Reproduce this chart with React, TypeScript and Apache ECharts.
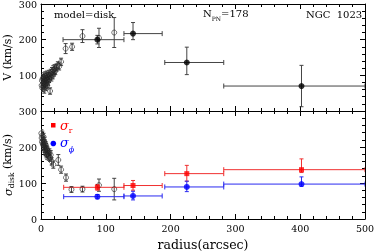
import React, { useEffect, useRef } from "react";
import * as echarts from "echarts";

// ---------- top panel: rotation velocity ----------
const vOpenR = [1, 1.5, 2, 2.5, 3, 3.5, 4, 4.5, 5, 5.5, 6, 6.5, 7, 7.5, 8, 8.5, 9, 9.5, 10, 10.5, 11, 12, 12.5, 13, 14, 15, 16, 17, 18, 19, 20, 21, 22, 24, 26, 28, 31, 38, 48, 64, 89.5, 113];
const vOpenV = [72, 85, 65, 90, 78, 70, 95, 82, 60, 88, 75, 98, 68, 85, 92, 78, 100, 72, 88, 95, 82, 102, 90, 98, 56, 105, 94, 110, 100, 115, 108, 118, 112, 122, 128, 125, 138, 175, 180, 210, 205, 220];
const vOpenErr = [10, 12, 10, 12, 10, 10, 12, 10, 10, 12, 10, 12, 10, 10, 12, 10, 12, 10, 10, 12, 10, 12, 10, 10, 9, 12, 10, 12, 10, 12, 10, 12, 10, 10, 10, 10, 10, 14, 10, 18, 27, 42];

const vBinR = [87, 142, 225, 402];
const vBinRLo = [34, 128, 191, 282];
const vBinRHi = [128, 187, 282, 500];
const vBinV = [200, 217, 136, 70];
const vBinVLo = [188, 200, 102, 12];
const vBinVHi = [212, 248, 179, 128];

// ---------- bottom panel: velocity dispersion ----------
const sOpenR = [0.5, 1, 1.5, 2, 2.5, 3, 3.5, 4, 4.5, 5, 5.5, 6, 6.5, 7, 7.5, 8, 8.5, 9, 9.5, 10, 11, 12, 13, 14, 15, 16.5, 19, 26.7, 31, 38.6, 47, 64, 89.5, 113];
const sOpenS = [238, 225, 215, 232, 210, 220, 205, 228, 200, 215, 195, 210, 190, 205, 185, 198, 180, 195, 178, 190, 182, 175, 185, 170, 178, 160, 151, 164, 137, 115, 82, 83, 94, 83];
const sOpenErr = [10, 12, 10, 12, 10, 10, 12, 10, 10, 12, 10, 10, 12, 10, 10, 12, 10, 10, 12, 10, 10, 12, 10, 10, 12, 10, 10, 15, 10, 10, 8, 8, 17, 30];

const binR = [87, 142, 225, 402];
const binRLo = [35, 128, 191, 282];
const binRHi = [128, 187, 282, 500];
const sigRV = [88, 93, 126, 137];
const sigRLo = [80, 80, 105, 129];
const sigRHi = [96, 107, 149, 167];
const sigPhiV = [62, 64, 89, 97];
const sigPhiLo = [56, 53, 76, 91];
const sigPhiHi = [68, 77, 105, 117];

const FONT = "DejaVu Serif";

function errRender(color: string) {
  return (params: any, api: any) => {
    const x = api.value(0), y = api.value(1);
    const xl = api.value(2), xh = api.value(3), yl = api.value(4), yh = api.value(5);
    const children: any[] = [];
    const st = { stroke: color, lineWidth: 1 };
    const hc = 2.5, vc = 2;
    if (xl !== xh) {
      const a = api.coord([xl, y]), b = api.coord([xh, y]);
      children.push({ type: "line", shape: { x1: a[0], y1: a[1], x2: b[0], y2: b[1] }, style: st });
      children.push({ type: "line", shape: { x1: a[0], y1: a[1] - hc, x2: a[0], y2: a[1] + hc }, style: st });
      children.push({ type: "line", shape: { x1: b[0], y1: b[1] - hc, x2: b[0], y2: b[1] + hc }, style: st });
    }
    if (yl !== yh) {
      const a = api.coord([x, yl]), b = api.coord([x, yh]);
      children.push({ type: "line", shape: { x1: a[0], y1: a[1], x2: b[0], y2: b[1] }, style: st });
      children.push({ type: "line", shape: { x1: a[0] - vc, y1: a[1], x2: a[0] + vc, y2: a[1] }, style: st });
      children.push({ type: "line", shape: { x1: b[0] - vc, y1: b[1], x2: b[0] + vc, y2: b[1] }, style: st });
    }
    return { type: "group", children };
  };
}

export default function App() {
  const ref = useRef<HTMLDivElement>(null);
  useEffect(() => {
    if (!ref.current) return;
    const chart = echarts.init(ref.current, null, { renderer: "svg" });

    const axisLine = { show: true, onZero: false, lineStyle: { color: "#000", width: 1 } };
    const axisTick = { show: true, inside: true, length: 5, lineStyle: { color: "#000", width: 1 } };
    const minorTick = { show: true, splitNumber: 5, length: 3, lineStyle: { color: "#000", width: 1 } };
    const lbl = { fontFamily: FONT, fontSize: 9.5, color: "#000", margin: 4 };

    const xA = (grid: number, pos: string, showLabel: boolean, name?: string) => ({
      type: "value", gridIndex: grid, position: pos, min: 0, max: 500, interval: 100,
      axisLine, axisTick, minorTick, splitLine: { show: false },
      axisLabel: { ...lbl, show: showLabel },
      name: name || "", nameLocation: "middle", nameGap: 19, nameMoveOverlap: false,
      nameTextStyle: { fontFamily: FONT, fontSize: 12.5, color: "#000" },
    });
    const yA = (grid: number, pos: string, showLabel: boolean, extra: any = {}) => ({
      type: "value", gridIndex: grid, position: pos, min: 0, max: 300, interval: 100,
      axisLine, axisTick, minorTick, splitLine: { show: false },
      axisLabel: { ...lbl, show: showLabel },
      nameMoveOverlap: false,
      ...extra,
    });

    const vOpenData = vOpenR.map((r, i) => [r, vOpenV[i]]);
    const vOpenErrData = vOpenR.map((r, i) => [r, vOpenV[i], r, r, vOpenV[i] - vOpenErr[i], vOpenV[i] + vOpenErr[i]]);
    const vBinData = vBinR.map((r, i) => [r, vBinV[i]]);
    const vBinErrData = vBinR.map((r, i) => [r, vBinV[i], vBinRLo[i], vBinRHi[i], vBinVLo[i], vBinVHi[i]]);
    const sOpenData = sOpenR.map((r, i) => [r, sOpenS[i]]);
    const sOpenErrData = sOpenR.map((r, i) => [r, sOpenS[i], r, r, sOpenS[i] - sOpenErr[i], sOpenS[i] + sOpenErr[i]]);
    const sRData = binR.map((r, i) => [r, sigRV[i]]);
    const sRErr = binR.map((r, i) => [r, sigRV[i], binRLo[i], binRHi[i], sigRLo[i], sigRHi[i]]);
    const sPData = binR.map((r, i) => [r, sigPhiV[i]]);
    const sPErr = binR.map((r, i) => [r, sigPhiV[i], binRLo[i], binRHi[i], sigPhiLo[i], sigPhiHi[i]]);

    const errSeries = (data: any[], color: string, xi: number, yi: number) => ({
      type: "custom", xAxisIndex: xi, yAxisIndex: yi, data, clip: true,
      renderItem: errRender(color), silent: true, z: 2,
      encode: { x: 0, y: 1 },
    });

    chart.setOption({
      animation: false,
      grid: [
        { left: 41, top: 4, width: 324, height: 107, containLabel: false, outerBoundsMode: "none" },
        { left: 41, top: 111, width: 324, height: 108, containLabel: false, outerBoundsMode: "none" },
      ],
      xAxis: [
        xA(0, "bottom", false),
        xA(0, "top", false),
        xA(1, "bottom", true, "radius(arcsec)"),
        xA(1, "top", false),
      ],
      yAxis: [
        yA(0, "left", true, {
          axisLabel: { ...lbl, showMinLabel: false, lineHeight: 8 },
          name: "V (km/s)", nameLocation: "middle", nameGap: 28, nameRotate: 90,
          nameTextStyle: { fontFamily: FONT, fontSize: 11, color: "#000" },
        }),
        yA(0, "right", false),
        yA(1, "left", true, {
          name: "{s|σ}{sub|disk} (km/s)", nameLocation: "middle", nameGap: 26, nameRotate: 90,
          nameTextStyle: {
            fontFamily: FONT, fontSize: 11, color: "#000",
            rich: {
              s: { fontFamily: FONT, fontSize: 11.5, fontStyle: "italic", color: "#000", verticalAlign: "middle" },
              sub: { fontFamily: FONT, fontSize: 7.5, color: "#000", verticalAlign: "bottom", lineHeight: 15 },
            },
          },
        }),
        yA(1, "right", false),
      ],
      series: [
        errSeries(vOpenErrData, "#444", 0, 0),
        {
          type: "scatter", xAxisIndex: 0, yAxisIndex: 0, data: vOpenData, symbol: "circle", symbolSize: 5,
          itemStyle: { color: "rgba(255,255,255,0)", borderColor: "#222", borderWidth: 0.8 }, z: 3,
        },
        errSeries(vBinErrData, "#444", 0, 0),
        {
          type: "scatter", xAxisIndex: 0, yAxisIndex: 0, data: vBinData, symbol: "circle", symbolSize: 6,
          itemStyle: { color: "#000" }, z: 4,
        },
        errSeries(sOpenErrData, "#444", 2, 2),
        {
          type: "scatter", xAxisIndex: 2, yAxisIndex: 2, data: sOpenData, symbol: "circle", symbolSize: 5,
          itemStyle: { color: "rgba(255,255,255,0)", borderColor: "#222", borderWidth: 0.8 }, z: 3,
        },
        errSeries(sRErr, "#f03030", 2, 2),
        {
          type: "scatter", xAxisIndex: 2, yAxisIndex: 2, data: sRData, symbol: "rect", symbolSize: 5,
          itemStyle: { color: "#f00" }, z: 4,
        },
        errSeries(sPErr, "#2a2af0", 2, 2),
        {
          type: "scatter", xAxisIndex: 2, yAxisIndex: 2, data: sPData, symbol: "circle", symbolSize: 6,
          itemStyle: { color: "#00f" }, z: 4,
        },
      ],
      graphic: [
        { type: "text", left: 54, top: 9, style: { text: "model=disk", fontFamily: FONT, fontSize: 10, fill: "#000" } },
        {
          type: "text", left: 203, top: 8,
          style: {
            text: "{a|N}{b|PN}{a|=178}", fill: "#000",
            rich: {
              a: { fontFamily: FONT, fontSize: 10, fill: "#000", verticalAlign: "top", lineHeight: 13 },
              b: { fontFamily: FONT, fontSize: 6, fill: "#000", verticalAlign: "bottom", lineHeight: 13 },
            },
          },
        },
        { type: "text", left: 306, top: 9, style: { text: "NGC  1023", fontFamily: FONT, fontSize: 10, fill: "#000" } },
        { type: "rect", shape: { x: 51, y: 123, width: 4.5, height: 4.5 }, style: { fill: "#f00" } },
        {
          type: "text", left: 60, top: 119,
          style: {
            text: "{s|σ}{t|r}", fill: "#f00",
            rich: {
              s: { fontFamily: FONT, fontSize: 13, fontStyle: "italic", fill: "#f00", verticalAlign: "top", lineHeight: 15 },
              t: { fontFamily: FONT, fontSize: 7.5, fill: "#f00", verticalAlign: "bottom", lineHeight: 15 },
            },
          },
        },
        { type: "circle", shape: { cx: 53.3, cy: 143.5, r: 2.8 }, style: { fill: "#00f" } },
        {
          type: "text", left: 60, top: 136,
          style: {
            text: "{s|σ}{t|ϕ}", fill: "#00f",
            rich: {
              s: { fontFamily: FONT, fontSize: 13, fontStyle: "italic", fill: "#00f", verticalAlign: "top", lineHeight: 15 },
              t: { fontFamily: FONT, fontSize: 8, fontStyle: "italic", fill: "#00f", verticalAlign: "bottom", lineHeight: 17 },
            },
          },
        },
      ],
    });
    return () => chart.dispose();
  }, []);
  return <div ref={ref} style={{ position: "fixed", left: 0, top: 0, width: 374, height: 252 }} />;
}
